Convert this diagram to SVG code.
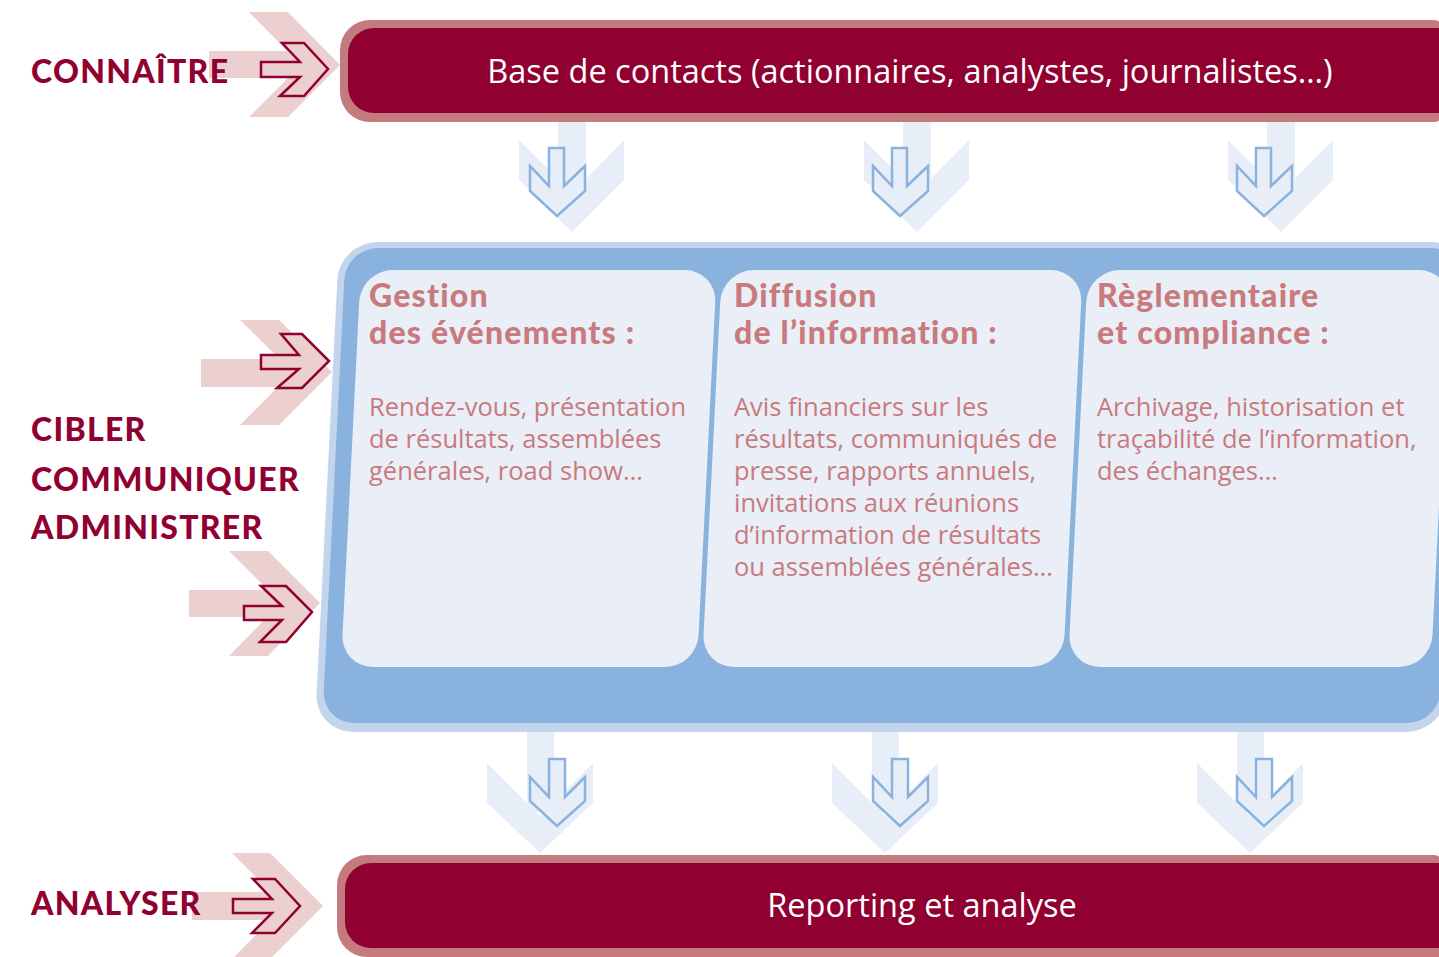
<svg xmlns="http://www.w3.org/2000/svg" width="1439" height="957" viewBox="0 0 1439 957">
<style>
.lbl{font-family:Lato,"Open Sans",sans-serif;font-weight:900;font-size:32px;letter-spacing:1.3px;fill:#900030}
.bar-out{fill:#c47b7d}
.bar-in{fill:#900030}
.bar-txt{font-family:"Open Sans","Noto Sans",sans-serif;font-size:32.5px;fill:#ffffff;text-anchor:middle}
.ttl{font-family:Lato,"Open Sans",sans-serif;font-weight:900;font-size:32px;letter-spacing:1.2px;fill:#c97a7d}
.body{font-family:"Open Sans","Noto Sans",sans-serif;font-size:25.5px;fill:#c97a7d}
.pk{fill:#ebd0cf}
.pko{fill:#ebd0cf;stroke:#900030;stroke-width:2.5;stroke-linejoin:miter}
.bl{fill:#e8eef7}
.blo{fill:#e8eef7;stroke:#8ab2de;stroke-width:2.5}
.card{fill:#e9eef7}
</style>

<!-- top bar -->
<g id="node-contacts">
<path class="bar-out" d="M370,20 H1434 Q1441,20 1441,27 V115 Q1441,122 1434,122 H370 A30,30 0 0 1 340,92 V50 A30,30 0 0 1 370,20 Z"/>
<path class="bar-in" d="M374,28 H1441 V113 H374 A26,26 0 0 1 348,87 V54 A26,26 0 0 1 374,28 Z"/>
<text class="bar-txt" x="910" y="83">Base de contacts (actionnaires, analystes, journalistes…)</text>
</g>

<!-- central panel -->
<g id="node-panel" transform="matrix(1,0,-0.05,1,24.3,0)">
<rect x="327" y="242" width="1130" height="490" rx="38" fill="#c3d5ed"/>
<rect x="334" y="248" width="1117" height="475" rx="32" fill="#8ab2de"/>
</g>
<g id="node-gestion">
<rect class="card" transform="matrix(1,0,-0.05,1,24.3,0)" x="350" y="270" width="356" height="397" rx="32"/>
<text class="ttl" x="369" y="307">Gestion</text>
<text class="ttl" x="369" y="344">des événements :</text>
<text class="body" x="369" y="416">Rendez-vous, présentation</text>
<text class="body" x="369" y="448">de résultats, assemblées</text>
<text class="body" x="369" y="480">générales, road show…</text>
</g>
<g id="node-diffusion">
<rect class="card" transform="matrix(1,0,-0.05,1,24.3,0)" x="711" y="270" width="361" height="397" rx="32"/>
<text class="ttl" x="734" y="307">Diffusion</text>
<text class="ttl" x="734" y="344">de l’information :</text>
<text class="body" x="734" y="416">Avis financiers sur les</text>
<text class="body" x="734" y="448">résultats, communiqués de</text>
<text class="body" x="734" y="480">presse, rapports annuels,</text>
<text class="body" x="734" y="512">invitations aux réunions</text>
<text class="body" x="734" y="544">d’information de résultats</text>
<text class="body" x="734" y="576">ou assemblées générales…</text>
</g>
<g id="node-reglementaire">
<rect class="card" transform="matrix(1,0,-0.05,1,24.3,0)" x="1077" y="270" width="363" height="397" rx="32"/>
<text class="ttl" x="1097" y="307">Règlementaire</text>
<text class="ttl" x="1097" y="344">et compliance :</text>
<text class="body" x="1097" y="416">Archivage, historisation et</text>
<text class="body" x="1097" y="448">traçabilité de l’information,</text>
<text class="body" x="1097" y="480">des échanges…</text>
</g>

<!-- bottom bar -->
<g id="node-reporting">
<path class="bar-out" d="M367,855 H1434 Q1441,855 1441,862 V957 H367 A30,30 0 0 1 337,927 V885 A30,30 0 0 1 367,855 Z"/>
<path class="bar-in" d="M371,863 H1441 V948 H371 A26,26 0 0 1 345,922 V889 A26,26 0 0 1 371,863 Z"/>
<text class="bar-txt" x="922" y="917">Reporting et analyse</text>
</g>

<!-- connectors -->
<g id="connectors">
<g id="in-connaitre">
<rect class="pk" x="209" y="51" width="92" height="27"/>
<polygon class="pk" points="249,12 288,12 340,65 288,117 249,117 301,65"/>
<polygon class="pko" points="261,62 300,62 282,43 304,43 328,69 304,96 280,96 300,77 261,77"/>
</g>
<g id="in-cibler">
<rect class="pk" x="201" y="359" width="92" height="28"/>
<polygon class="pk" points="240,320 279,320 332,372 279,425 240,425 293,372"/>
<polygon class="pko" points="261,355 299,355 281,334 302,334 329,361 302,388 277,388 299,369 261,369"/>
</g>
<g id="in-administrer">
<rect class="pk" x="189" y="590" width="92" height="27"/>
<polygon class="pk" points="229,551 268,551 320,603 268,656 229,656 281,603"/>
<polygon class="pko" points="244,606 282,606 261,586 286,586 312,612 286,642 260,642 282,620 244,620"/>
</g>
<g id="in-analyser">
<rect class="pk" x="192" y="892" width="92" height="28"/>
<polygon class="pk" points="232,853 270,853 323,906 270,959 232,959 285,906"/>
<polygon class="pko" points="233,899 272,899 253,879 275,879 300,906 275,933 252,933 272,913 233,913"/>
</g>

<g id="down-top-1">
<rect class="bl" x="558" y="122" width="28" height="80"/>
<polygon class="bl" points="519,140 572,193 624,140 624,180 572,232 519,180"/>
<polygon class="blo" points="549,148 564,148 564,186 585,166 585,191 557,216 530,191 530,166 549,186"/>
</g>
<g id="down-top-2">
<rect class="bl" x="903" y="122" width="28" height="80"/>
<polygon class="bl" points="864,140 917,193 969,140 969,180 917,232 864,180"/>
<polygon class="blo" points="892,148 907,148 907,186 928,166 928,191 900,216 873,191 873,166 892,186"/>
</g>
<g id="down-top-3">
<rect class="bl" x="1267" y="122" width="28" height="80"/>
<polygon class="bl" points="1228,140 1281,193 1333,140 1333,180 1281,232 1228,180"/>
<polygon class="blo" points="1256,148 1271,148 1271,186 1292,166 1292,191 1264,216 1237,191 1237,166 1256,186"/>
</g>

<g id="down-bot-1">
<rect class="bl" x="527" y="732" width="27" height="80"/>
<polygon class="bl" points="487,763 540,816 593,763 593,803 540,853 487,803"/>
<polygon class="blo" points="549,759 565,759 565,797 585,777 585,801 557,826 530,801 530,777 549,797"/>
</g>
<g id="down-bot-2">
<rect class="bl" x="872" y="732" width="27" height="80"/>
<polygon class="bl" points="832,763 885,816 938,763 938,803 885,853 832,803"/>
<polygon class="blo" points="892,759 908,759 908,797 928,777 928,801 900,826 873,801 873,777 892,797"/>
</g>
<g id="down-bot-3">
<rect class="bl" x="1237" y="732" width="27" height="80"/>
<polygon class="bl" points="1197,763 1250,816 1303,763 1303,803 1250,853 1197,803"/>
<polygon class="blo" points="1256,759 1272,759 1272,797 1292,777 1292,801 1264,826 1237,801 1237,777 1256,797"/>
</g>
</g>

<!-- left labels (drawn above the input arrows) -->
<g id="labels">
<text class="lbl" x="31" y="83">CONNAÎTRE</text>
<text class="lbl" x="31" y="441">CIBLER</text>
<text class="lbl" x="31" y="491">COMMUNIQUER</text>
<text class="lbl" x="31" y="539">ADMINISTRER</text>
<text class="lbl" x="31" y="915">ANALYSER</text>
</g>
</svg>
